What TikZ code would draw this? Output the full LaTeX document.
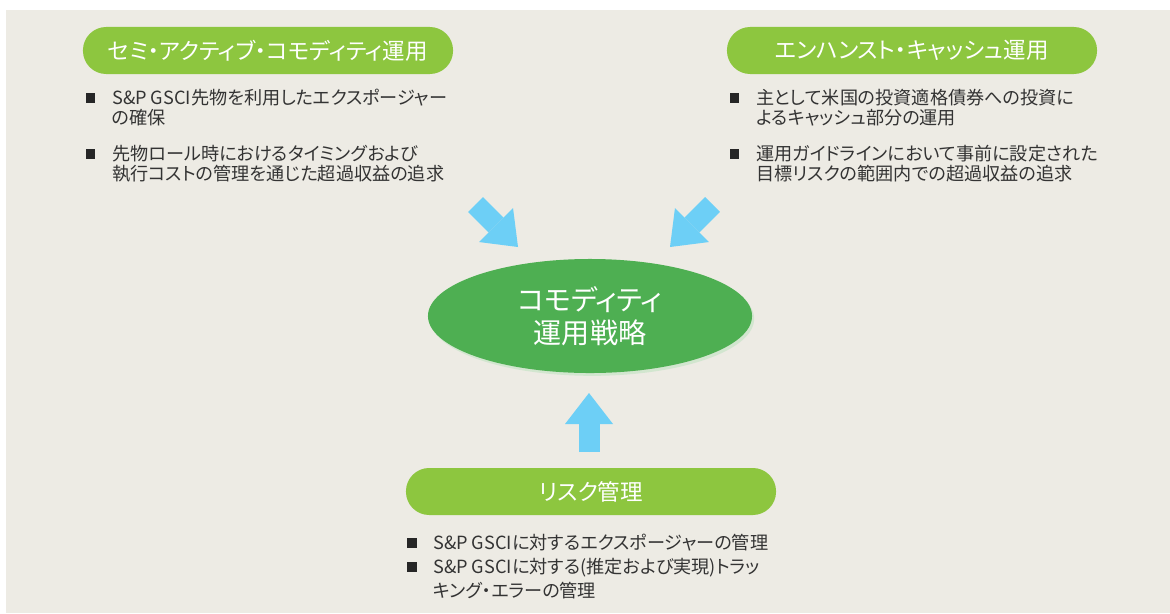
\documentclass[tikz,border=0pt]{standalone}
\usepackage{fontspec}
\setmainfont{Noto Sans CJK JP}[RawFeature={+palt}]
\usepackage{xcolor}
\usetikzlibrary{shapes.geometric,arrows.meta,shadows}

\definecolor{bgbeige}{HTML}{EDEBE4}
\definecolor{pillgreen}{HTML}{8DC63F}
\definecolor{ovalgreen}{HTML}{4EAF52}
\definecolor{arrowblue}{HTML}{6DCFF6}
\definecolor{txtgray}{HTML}{333333}

\tikzset{
  pill/.style={rounded corners=0.58cm, fill=pillgreen, text=white,
    minimum width=9.25cm, minimum height=1.175cm, inner sep=0pt,
    font=\fontsize{16}{19}\selectfont},
  bullet/.style={fill=black!85, minimum size=0.24cm, inner sep=0pt},
  item/.style={anchor=north west, inner sep=0pt, align=left, text=txtgray,
    font=\fontsize{12.9}{14.6}\selectfont},
  oval/.style={ellipse, fill=ovalgreen, text=white, minimum width=8.1cm,
    minimum height=2.85cm, inner sep=0pt, align=center,
    font=\fontsize{20}{23.5}\selectfont},
  fatarrow/.style={draw=arrowblue, fill=arrowblue, line width=0.525cm,
    -{Triangle[length=0.775cm, width=1.2cm, line width=0pt 0]}}
}

\begin{document}
\begin{tikzpicture}[x=0.025cm, y=-0.025cm]
        \useasboundingbox (0,0) rectangle (1170,613);
        \fill[white] (0,0) rectangle (1170,613);
        \fill[bgbeige] (6,10) rectangle (1170,613);

        \node[pill] (semi) at (268,50.5) {セミ・アクティブ・コモディティ運用};
        \node[bullet] (semib1) at (90.5,98) {};
        \node[item] (semit1) at (112,88.5) {S\&P GSCI先物を利用したエクスポージャー\\の確保};
        \node[bullet] (semib2) at (90.5,154) {};
        \node[item] (semit2) at (112,144.5) {先物ロール時におけるタイミングおよび\\執行コストの管理を通じた超過収益の追求};

        \node[pill] (cash) at (912,50.5) {エンハンスト・キャッシュ運用};
        \node[bullet] (cashb1) at (734.5,98) {};
        \node[item] (casht1) at (756,88.5) {主として米国の投資適格債券への投資に\\よるキャッシュ部分の運用};
        \node[bullet] (cashb2) at (734.5,154) {};
        \node[item] (casht2) at (756,144.5) {運用ガイドラインにおいて事前に設定された\\目標リスクの範囲内での超過収益の追求};

        \node[oval, drop shadow={fill=ovalgreen!35, opacity=0.6,
          shadow xshift=1.5pt, shadow yshift=-2pt}] (core) at (590,316) {コモディティ\\運用戦略};

        \node[pill] (risk) at (591,491.5) {リスク管理};
        \node[bullet] (riskb1) at (412,543) {};
        \node[item] (riskt1) at (433,533.5) {S\&P GSCIに対するエクスポージャーの管理};
        \node[bullet] (riskb2) at (412,567) {};
        \node[item, font=\fontsize{12.9}{17.6}\selectfont] (riskt2) at (433,557.5)
          {S\&P GSCIに対する(推定および実現)トラッ\\キング・エラーの管理};

        \coordinate (semifrom) at (475.5,204.5);
        \coordinate (semito) at (518,247);
        \coordinate (cashfrom) at (712.5,204.5);
        \coordinate (cashto) at (670,247);
        \coordinate (riskfrom) at (589,452);
        \coordinate (riskto) at (589,393);
        \draw[fatarrow] (semifrom) -- (semito);
        \draw[fatarrow] (cashfrom) -- (cashto);
        \draw[fatarrow] (riskfrom) -- (riskto);
\end{tikzpicture}
\end{document}
